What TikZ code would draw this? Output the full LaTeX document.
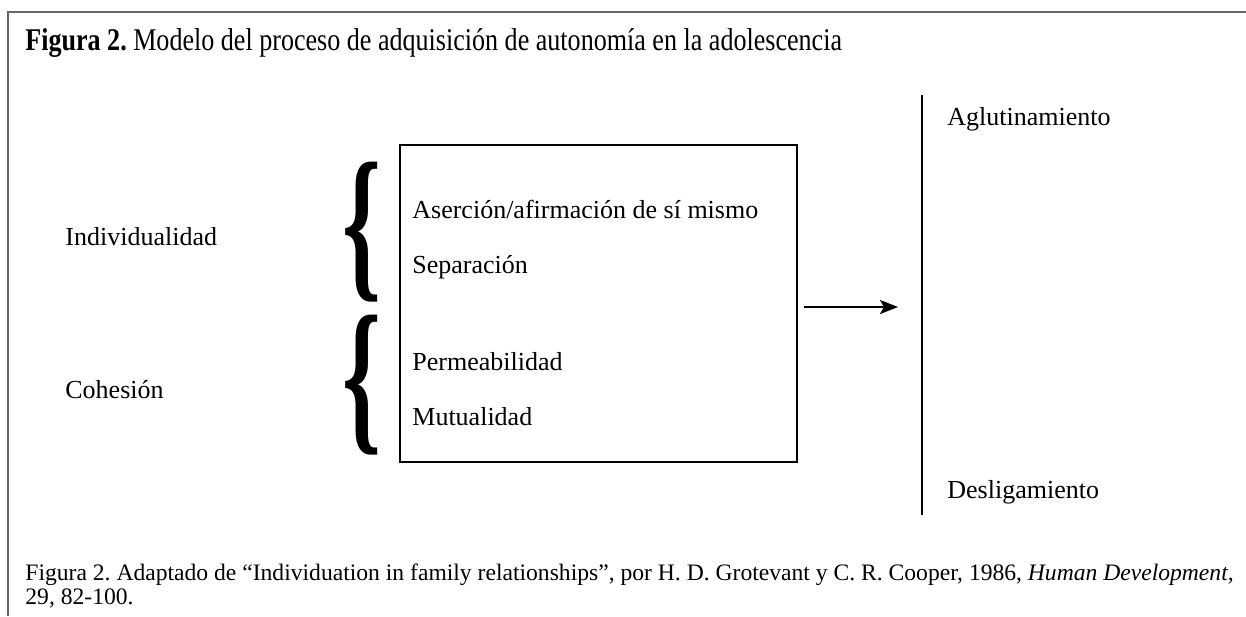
\documentclass[tikz,border=0pt]{standalone}
\usepackage{fontspec}
\usepackage{graphicx}
\setmainfont{Liberation Serif}
\newfontfamily\titlefont{Liberation Serif}[FakeStretch=0.825]
\usetikzlibrary{arrows.meta}
\frenchspacing

\begin{document}
\begin{tikzpicture}[x=25pt, y=25pt,
    txt/.style={anchor=base west, inner sep=0pt, font=\fontsize{13}{15}\selectfont},
    llave/.style={inner sep=0pt, font=\fontsize{13}{15}\selectfont}]
    \useasboundingbox (0,0) rectangle (24.92,-12.32);
    % Marco
    \draw[line width=1pt, black!60] (0.16,-12.32) -- (0.16,-0.24) -- (24.92,-0.24);

    % Titulo
    \node[anchor=base west, inner sep=0pt, font=\fontsize{15.8}{18}\titlefont] (tit) at (0.5,-1.0)
        {\textbf{Figura 2.} Modelo del proceso de adquisición de autonomía en la adolescencia};

    % Dimensiones
    \node[txt] (ind) at (1.3,-4.9) {Individualidad};
    \node[txt] (coh) at (1.3,-7.96) {Cohesión};
    \node[llave] (ll1) at (7.25,-4.64) {\resizebox*{19.5pt}{70pt}{\textbf{\{}}};
    \node[llave] (ll2) at (7.25,-7.7) {\resizebox*{19.5pt}{70pt}{\textbf{\{}}};

    % Caja central
    \node[draw, line width=1.2pt, minimum width=198.5pt, minimum height=158.5pt] (box) at (11.97,-6.07) {};
    \node[txt] (ase) at (8.24,-4.36) {Aserción/afirmación de sí mismo};
    \node[txt] (sep) at (8.24,-5.46) {Separación};
    \node[txt] (per) at (8.24,-7.4) {Permeabilidad};
    \node[txt] (mut) at (8.24,-8.5) {Mutualidad};

    % Continuo
    \coordinate (fin) at (17.96,-6.14);
    \coordinate (arr) at (18.44,-1.9);
    \coordinate (aba) at (18.44,-10.3);
    \draw[line width=1.2pt, -{Stealth[length=9pt, width=7pt, inset=2pt]}, shorten <=3pt] (box.east |- fin) -- (fin);
    \draw[line width=1.3pt] (arr) -- (aba);
    \node[txt] (agl) at (18.94,-2.5) {Aglutinamiento};
    \node[txt] (des) at (18.94,-9.96) {Desligamiento};

    % Fuente
    \node[anchor=base west, inner sep=0pt, font=\fontsize{11.8}{13}\selectfont] (f1) at (0.5,-11.6)
        {Figura 2. Adaptado de “Individuation in family relationships”, por H. D. Grotevant y C. R. Cooper, 1986, \textit{Human Development,}};
    \node[anchor=base west, inner sep=0pt, font=\fontsize{11.8}{13}\selectfont] (f2) at (0.5,-12.08) {29, 82-100.};
\end{tikzpicture}
\end{document}
